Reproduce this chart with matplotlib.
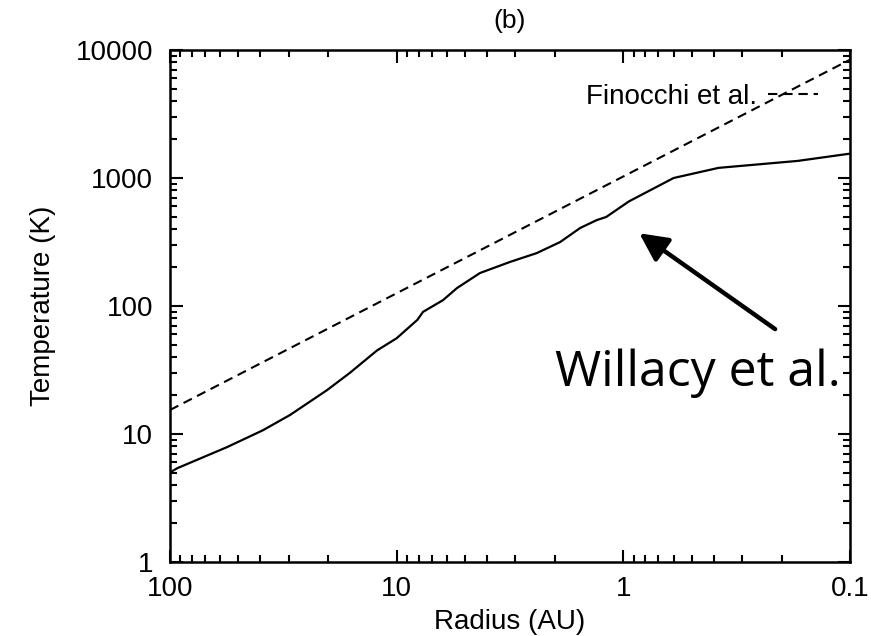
import matplotlib
matplotlib.use("Agg")
import matplotlib.pyplot as plt
from matplotlib.ticker import LogLocator, NullFormatter, FixedLocator, FixedFormatter

plt.rcParams['font.family'] = ['Liberation Sans', 'DejaVu Sans']

# Willacy et al. temperature profile (solid)
willacy_r = [100, 93, 56, 38.9, 29.5, 20.3, 16.1, 12.2, 10.0, 8.1, 7.65, 6.25, 5.42,
             4.29, 3.16, 2.41, 1.90, 1.55, 1.31, 1.19, 0.944, 0.60, 0.38, 0.17, 0.1]
willacy_T = [5.0, 5.4, 7.9, 10.7, 14.1, 22, 30, 45, 56, 78, 90, 111, 138,
             181, 221, 259, 316, 407, 469, 496, 657, 1000, 1200, 1360, 1550]

# Finocchi et al. profile (dashed)
finocchi_r = [100, 0.1]
finocchi_T = [15.4, 8400]

xticks = [100, 10, 1, 0.1]
xtick_labels = ["100", "10", "1", "0.1"]
yticks = [1, 10, 100, 1000, 10000]
ytick_labels = ["1", "10", "100", "1000", "10000"]

fig = plt.figure(figsize=(8.71, 6.36), dpi=100)
ax = fig.add_axes([170/871, 74/636, 680/871, 512/636])

ax.plot(willacy_r, willacy_T, color='black', lw=1.6, solid_joinstyle='round')
dashed, = ax.plot(finocchi_r, finocchi_T, color='black', lw=1.5, dashes=(4.5, 2.8),
                  label='Finocchi et al.')

ax.set_xscale('log')
ax.set_yscale('log')
ax.set_xlim(100, 0.1)
ax.set_ylim(1, 10000)

ax.xaxis.set_major_locator(FixedLocator(xticks))
ax.xaxis.set_major_formatter(FixedFormatter(xtick_labels))
ax.yaxis.set_major_locator(FixedLocator(yticks))
ax.yaxis.set_major_formatter(FixedFormatter(ytick_labels))
ax.xaxis.set_minor_locator(LogLocator(base=10, subs=range(2, 10), numticks=20))
ax.yaxis.set_minor_locator(LogLocator(base=10, subs=range(2, 10), numticks=20))
ax.xaxis.set_minor_formatter(NullFormatter())
ax.yaxis.set_minor_formatter(NullFormatter())

ax.tick_params(which='both', direction='in', top=True, right=True, width=1.5)
ax.tick_params(which='major', length=9, labelsize=20, pad=12)
ax.tick_params(axis='x', which='major', pad=10)
ax.tick_params(which='minor', length=5)
for s in ax.spines.values():
    s.set_linewidth(1.8)

ax.set_xlabel('Radius (AU)', fontsize=20, labelpad=5)
ax.set_ylabel('Temperature (K)', fontsize=20, labelpad=14)
ax.set_title('(b)', fontsize=19, pad=16)

ax.legend(handles=[dashed], loc='center right', bbox_to_anchor=(0.953, 0.908),
          frameon=False, markerfirst=False, fontsize=20, handlelength=1.8,
          handletextpad=0.4, borderaxespad=0, borderpad=0)

ax.annotate('', xy=(0.85, 370), xytext=(0.214, 66),
            arrowprops=dict(arrowstyle='-|>,head_length=1.7,head_width=0.85',
                            color='black', lw=3.2, shrinkA=0, shrinkB=0))
ax.text(2.0, 30, 'Willacy et al.', fontsize=36, family=['Open Sans', 'DejaVu Sans'],
        ha='left', va='center')

fig.savefig('out.png', dpi=100)
